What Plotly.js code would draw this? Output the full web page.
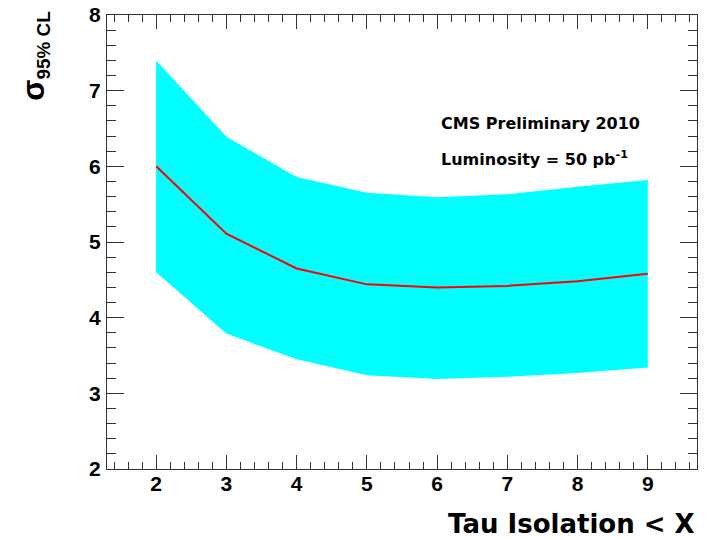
<!DOCTYPE html>
<html>
<head>
<meta charset="utf-8">
<script src="https://cdn.plot.ly/plotly-3.0.1.min.js"></script>
<style>html,body{margin:0;padding:0;background:#fff;}#chart{width:709px;height:540px;}</style>
</head>
<body>
<div id="chart"></div>
<script>
const isoCut   = [2, 3, 4, 5, 6, 7, 8, 9];
const sigmaMed = [6.00, 5.11, 4.65, 4.44, 4.40, 4.42, 4.48, 4.58];
const bandUp   = [7.40, 6.39, 5.86, 5.65, 5.59, 5.63, 5.73, 5.82];
const bandLow  = [4.60, 3.79, 3.45, 3.24, 3.19, 3.22, 3.27, 3.34];

const bandX = isoCut.concat(isoCut.slice().reverse());
const bandY = bandUp.concat(bandLow.slice().reverse());

const font = "'Liberation Sans', Arial, Helvetica, sans-serif";
const wideFont = "'DejaVu Sans', 'Liberation Sans', sans-serif";

const traces = [
  {x: bandX, y: bandY, type: 'scatter', mode: 'lines', fill: 'toself',
   fillcolor: '#00FFFF', line: {width: 0, color: '#00FFFF'}, hoverinfo: 'skip'},
  {x: isoCut, y: sigmaMed, type: 'scatter', mode: 'lines',
   line: {color: '#FF0000', width: 2}}
];

const axisCommon = {
  showgrid: false, zeroline: false, showline: true, linecolor: '#333', linewidth: 1,
  mirror: 'allticks', ticks: 'inside', tickcolor: '#333', tickwidth: 1,
  tickfont: {family: font, size: 21, color: '#000', weight: 'bold'}
};

const layout = {
  width: 709, height: 540,
  margin: {l: 107, r: 12, t: 15, b: 71},
  paper_bgcolor: '#fff', plot_bgcolor: '#fff',
  showlegend: false,
  xaxis: Object.assign({}, axisCommon, {
    range: [1.3, 9.7], tickvals: [2,3,4,5,6,7,8,9], ticklen: 14,
    minor: {dtick: 0.2, tick0: 0, ticklen: 7, ticks: 'inside', tickcolor: '#333'},
    ticklabelstandoff: -4
  }),
  yaxis: Object.assign({}, axisCommon, {
    range: [2, 8], dtick: 1, tick0: 2, ticklen: 17,
    minor: {dtick: 0.2, tick0: 0, ticklen: 9, ticks: 'inside', tickcolor: '#333'},
    ticklabelstandoff: 1
  }),
  annotations: [
    {xref: 'x', yref: 'y', x: 6.02, y: 6.57, xanchor: 'left', yanchor: 'middle', showarrow: false,
     text: '<b>CMS Preliminary 2010</b>', font: {family: wideFont, size: 16, color: '#000'}},
    {xref: 'x', yref: 'y', x: 6.02, y: 6.11, xanchor: 'left', yanchor: 'middle', showarrow: false,
     text: '<b>Luminosity = 50 pb<sup>-1</sup></b>', font: {family: wideFont, size: 16, color: '#000'}},
    {xref: 'paper', yref: 'paper', x: 1.0, y: -0.122, xanchor: 'right', yanchor: 'middle', showarrow: false,
     text: '<b>Tau Isolation &lt; X</b>', font: {family: wideFont, size: 26, color: '#000'}},
    {xref: 'paper', yref: 'paper', x: -0.122, y: 0.908, xanchor: 'center', yanchor: 'middle', showarrow: false,
     textangle: -90,
     text: '<b><span style="font-size:31px">σ</span><sub>95% CL</sub></b>', font: {family: font, size: 27, color: '#000'}}
  ]
};

Plotly.newPlot('chart', traces, layout, {displayModeBar: false, staticPlot: true});
</script>
</body>
</html>
